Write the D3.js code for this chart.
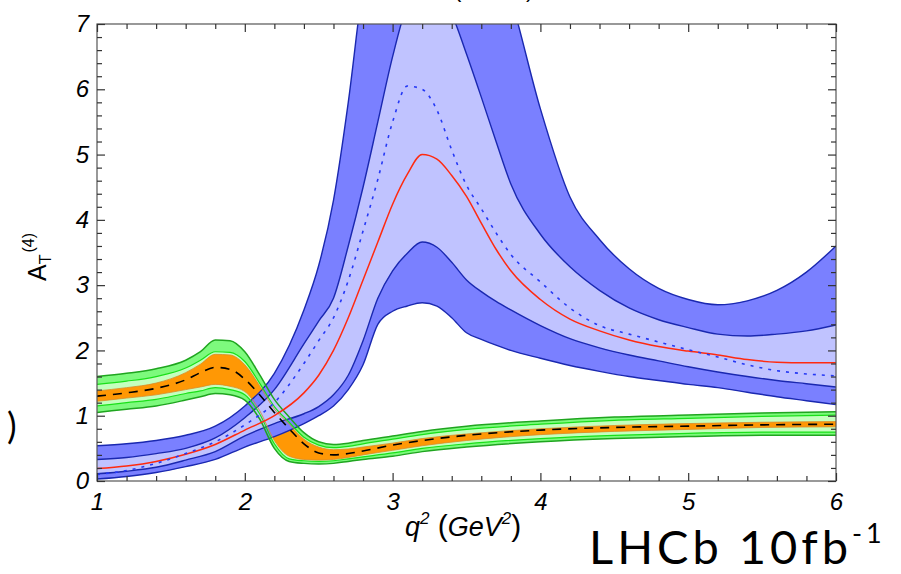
<!DOCTYPE html>
<html><head><meta charset="utf-8">
<script src="https://cdn.jsdelivr.net/npm/d3@7"></script>
<style>body{margin:0;background:#fff} svg{display:block}</style>
</head><body>
<svg id="c" width="901" height="574"></svg>
<script>
// ---- data ----
const xTickLabels = ["1","2","3","4","5","6"];
const yTickLabels = ["0","1","2","3","4","5","6","7"];

// blue band grid (q^2)
const bx = [1.0,1.2,1.4,1.6,1.8,2.0,2.2,2.4,2.5,2.6,2.7,2.8,2.9,3.0,3.1,3.2,3.3,3.4,3.5,3.6,3.7,3.8,4.0,4.2,4.4,4.6,4.8,5.0,5.2,5.4,5.6,5.8,6.0];
const blueOuterHi = [0.54,0.57,0.62,0.70,0.84,1.15,1.65,2.62,3.30,4.30,5.80,7.60,8.80,9.60,10.0,10.0,10.0,9.9,9.5,8.8,8.1,7.4,5.70,4.35,3.70,3.25,2.95,2.78,2.70,2.76,2.92,3.20,3.60];
const blueInnerHi = [0.33,0.36,0.42,0.50,0.66,0.97,1.40,2.10,2.45,2.80,3.60,4.50,5.50,6.50,7.30,7.60,7.50,7.15,6.54,5.88,5.20,4.55,3.78,3.28,2.92,2.65,2.47,2.35,2.25,2.22,2.25,2.30,2.39];
const redLine = [0.19,0.23,0.30,0.41,0.56,0.78,1.00,1.35,1.62,2.00,2.50,3.08,3.66,4.24,4.70,5.00,4.93,4.68,4.36,3.95,3.55,3.22,2.78,2.48,2.30,2.16,2.06,1.99,1.93,1.86,1.82,1.81,1.81];
const dottedLine = [0.10,0.16,0.27,0.42,0.60,0.86,1.20,1.80,2.15,2.50,3.07,3.83,4.62,5.50,6.05,6.00,5.68,5.07,4.53,4.17,3.80,3.47,3.05,2.65,2.38,2.25,2.13,2.01,1.90,1.78,1.69,1.64,1.61];
const blueInnerLo = [0.11,0.15,0.21,0.32,0.45,0.69,0.88,1.03,1.14,1.32,1.62,2.15,2.80,3.22,3.49,3.66,3.58,3.35,3.08,2.90,2.75,2.62,2.38,2.18,2.04,1.93,1.84,1.75,1.67,1.60,1.54,1.49,1.44];
const blueOuterLo = [0.03,0.07,0.13,0.22,0.33,0.52,0.68,0.88,1.00,1.15,1.40,1.78,2.40,2.60,2.68,2.73,2.68,2.50,2.27,2.17,2.08,2.00,1.88,1.77,1.68,1.60,1.54,1.48,1.43,1.36,1.29,1.23,1.17];

// green / orange band grid
const gx = [1.0,1.2,1.4,1.6,1.7,1.8,1.9,2.0,2.1,2.2,2.3,2.4,2.5,2.6,2.7,2.8,3.0,3.2,3.5,4.0,4.5,5.0,5.5,6.0];
const greenHi  = [1.60,1.65,1.72,1.85,1.98,2.16,2.15,1.98,1.63,1.25,0.98,0.74,0.60,0.56,0.58,0.62,0.69,0.76,0.84,0.92,0.98,1.01,1.04,1.06];
const lightHi  = [1.48,1.53,1.60,1.73,1.85,1.98,1.97,1.83,1.50,1.14,0.90,0.67,0.55,0.51,0.53,0.57,0.64,0.71,0.79,0.87,0.93,0.96,0.99,1.01];
const orangeHi = [1.38,1.43,1.50,1.66,1.79,1.94,1.93,1.78,1.46,1.10,0.87,0.64,0.52,0.48,0.49,0.52,0.58,0.65,0.72,0.80,0.85,0.88,0.90,0.91];
const dashedLine=[1.30,1.35,1.42,1.55,1.66,1.74,1.71,1.56,1.32,1.05,0.80,0.57,0.43,0.40,0.42,0.46,0.55,0.62,0.70,0.78,0.82,0.84,0.86,0.87];
const orangeLo = [1.22,1.27,1.32,1.40,1.44,1.48,1.45,1.37,1.08,0.62,0.38,0.33,0.32,0.33,0.36,0.40,0.47,0.54,0.62,0.71,0.76,0.79,0.82,0.83];
const lightLo  = [1.15,1.20,1.25,1.34,1.38,1.43,1.40,1.32,1.03,0.57,0.34,0.31,0.30,0.31,0.34,0.37,0.43,0.50,0.57,0.65,0.70,0.73,0.75,0.75];
const greenLo  = [1.05,1.10,1.15,1.24,1.29,1.34,1.32,1.24,0.95,0.50,0.30,0.27,0.26,0.27,0.30,0.33,0.38,0.45,0.52,0.60,0.65,0.68,0.70,0.70];

// ---- chart ----
const svg = d3.select("#c");
const L=97, R=836, T=24, B=481;
const x = d3.scaleLinear().domain([1,6]).range([L,R]);
const y = d3.scaleLinear().domain([0,7]).range([B,T]);

svg.append("defs").append("clipPath").attr("id","clip")
  .append("rect").attr("x",L).attr("y",T).attr("width",R-L).attr("height",B-T);
const g = svg.append("g").attr("clip-path","url(#clip)");

const curve = d3.curveMonotoneX;
function band(xsArr, lo, hi, fill){
  const a = d3.area().curve(curve).x((d,i)=>x(xsArr[i])).y0((d,i)=>y(lo[i])).y1((d,i)=>y(hi[i]));
  g.append("path").datum(xsArr).attr("d",a).attr("fill",fill).attr("stroke","none");
}
function line(xsArr, vals, stroke, w, dash){
  const l = d3.line().curve(curve).x((d,i)=>x(xsArr[i])).y((d,i)=>y(vals[i]));
  const p = g.append("path").datum(xsArr).attr("d",l).attr("fill","none")
    .attr("stroke",stroke).attr("stroke-width",w);
  if(dash) p.attr("stroke-dasharray",dash);
}

// green/orange fills
band(gx, greenLo, greenHi, "#7dfa7d");
band(gx, lightLo, lightHi, "#c4ffbe");
band(gx, orangeLo, orangeHi, "#ff9805");
// blue fills
band(bx, blueOuterLo, blueOuterHi, "#7a80ff");
band(bx, blueInnerLo, blueInnerHi, "#c0c3ff");

// lines
const navy = "#1a28b0";
line(bx, blueOuterHi, navy, 1.4);
line(bx, blueOuterLo, navy, 1.4);
line(bx, blueInnerHi, navy, 1.4);
line(bx, blueInnerLo, navy, 1.4);
line(gx, greenHi, "#1fa51f", 1.5);
line(gx, greenLo, "#1fa51f", 1.5);
line(gx, lightHi, "#19e019", 1.2);
line(gx, lightLo, "#19e019", 1.2);
line(gx, orangeHi, "#d98a2a", 0.8);
line(gx, orangeLo, "#d98a2a", 0.8);
line(bx, redLine, "#ff2a10", 1.5);
line(bx, dottedLine, "#2438f5", 1.6, "3,6");
line(gx, dashedLine, "#000", 1.6, "9,7");

// frame
svg.append("rect").attr("x",L).attr("y",T).attr("width",R-L).attr("height",B-T)
  .attr("fill","none").attr("stroke","#555").attr("stroke-width",1.2);

// axes
const fontTick = "italic 24px 'Liberation Sans', Arial, sans-serif";
const xMajor = d3.range(1,7,1), yMajor = d3.range(0,8,1);
const xMinor = d3.range(1,6.001,0.2).filter(v=>Math.abs(v-Math.round(v))>1e-6);
const yMinor = d3.range(0,7.001,0.2).filter(v=>Math.abs(v-Math.round(v))>1e-6);

function styleAxis(sel){
  sel.select(".domain").remove();
  sel.selectAll(".tick line").attr("stroke","#333").attr("stroke-width",1.2);
  sel.selectAll(".tick text").style("font",fontTick).attr("fill","#000");
}
svg.append("g").attr("transform",`translate(0,${B})`)
  .call(d3.axisBottom(x).tickValues(xMajor).tickSize(-8).tickPadding(12).tickFormat((d,i)=>xTickLabels[i]))
  .call(styleAxis);
svg.append("g").attr("transform",`translate(0,${B})`)
  .call(d3.axisBottom(x).tickValues(xMinor).tickSize(-5).tickFormat("")).call(styleAxis);
svg.append("g").attr("transform",`translate(0,${T})`)
  .call(d3.axisTop(x).tickValues(xMajor).tickSize(-8).tickFormat("")).call(styleAxis);
svg.append("g").attr("transform",`translate(0,${T})`)
  .call(d3.axisTop(x).tickValues(xMinor).tickSize(-5).tickFormat("")).call(styleAxis);
svg.append("g").attr("transform",`translate(${L},0)`)
  .call(d3.axisLeft(y).tickValues(yMajor).tickSize(-8).tickPadding(8).tickFormat((d,i)=>yTickLabels[i]))
  .call(styleAxis);
svg.append("g").attr("transform",`translate(${L},0)`)
  .call(d3.axisLeft(y).tickValues(yMinor).tickSize(-5).tickFormat("")).call(styleAxis);
svg.append("g").attr("transform",`translate(${R},0)`)
  .call(d3.axisRight(y).tickValues(yMajor).tickSize(-8).tickFormat("")).call(styleAxis);
svg.append("g").attr("transform",`translate(${R},0)`)
  .call(d3.axisRight(y).tickValues(yMinor).tickSize(-5).tickFormat("")).call(styleAxis);

// y label
const yl = svg.append("text").attr("transform","translate(46,281) rotate(-90)")
  .style("font-family","'Liberation Sans', Arial, sans-serif").attr("fill","#000");
yl.append("tspan").text("A").style("font-size","25px");
yl.append("tspan").text("T").style("font-size","16px").attr("dy",5);
yl.append("tspan").text("(4)").style("font-size","16px").attr("dy",-17).attr("dx",2);

// x label
const xl = svg.append("text").attr("x",405).attr("y",536)
  .style("font","italic 27px 'Liberation Sans', Arial, sans-serif").attr("fill","#000");
xl.append("tspan").text("q");
xl.append("tspan").text("2").style("font-size","17px").attr("dy",-12);
xl.append("tspan").text(" (").attr("dy",12).style("font-style","normal").style("font-size","30px");
xl.append("tspan").text("GeV");
xl.append("tspan").text("2").style("font-size","17px").attr("dy",-12);
xl.append("tspan").text(")").attr("dy",12).style("font-style","normal").style("font-size","30px");

// LHCb label
const lh = svg.append("text").attr("x",589).attr("y",564)
  .style("font-family","Lato, 'Open Sans', sans-serif").style("font-size","47px")
  .style("letter-spacing","4px").attr("fill","#000");
lh.append("tspan").text("LHCb 10fb");
lh.append("tspan").text("-1").style("font-size","27px").attr("dy",-21);

// clipped fragments of neighbouring text
svg.append("text").attr("x",7).attr("y",439).text(")")
  .style("font","36px Lato, sans-serif").attr("fill","#000");
svg.append("text").attr("x",454).attr("y",-3).text("(")
  .style("font","22px 'Liberation Sans', sans-serif").attr("fill","#000");
svg.append("text").attr("x",526).attr("y",-3).text(")")
  .style("font","22px 'Liberation Sans', sans-serif").attr("fill","#000");
</script>
</body></html>
